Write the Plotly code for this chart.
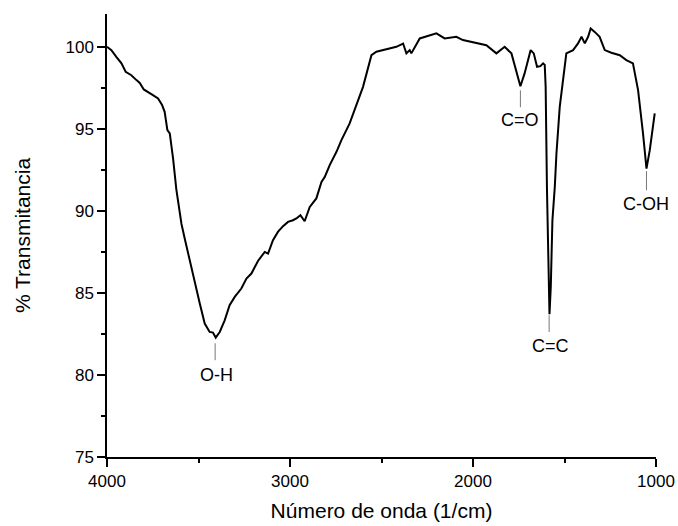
import plotly.graph_objects as go

# FTIR spectrum: wavenumber (1/cm) and % transmittance
wavenumber = [4000, 3976, 3949, 3921, 3898, 3867, 3839, 3821, 3799, 3776, 3749, 3721, 3699, 3685,
              3670, 3657, 3639, 3621, 3593, 3575, 3548, 3521, 3493, 3466, 3439, 3421, 3406, 3384,
              3357, 3330, 3302, 3266, 3238, 3211, 3175, 3138, 3120, 3093, 3066, 3038, 3011, 2984,
              2965, 2943, 2920, 2892, 2856, 2828, 2810, 2783, 2746, 2719, 2674, 2601, 2555, 2528,
              2473, 2419, 2382, 2364, 2346, 2337, 2291, 2237, 2200, 2155, 2091, 2055, 1981, 1927,
              1872, 1827, 1790, 1763, 1741, 1718, 1685, 1668, 1650, 1632, 1617, 1608, 1603, 1596,
              1590, 1582, 1575, 1566, 1553, 1544, 1526, 1508, 1490, 1453, 1426, 1407, 1389, 1371,
              1357, 1335, 1308, 1280, 1244, 1198, 1162, 1126, 1098, 1071, 1052, 1034, 1007]
transmittance = [100.0, 99.8, 99.39, 98.99, 98.48, 98.27, 97.97, 97.8, 97.4, 97.26, 97.05, 96.85, 96.45, 96.04,
                 94.92, 94.72, 93.2, 91.3, 89.2, 88.3, 86.99, 85.57, 84.35, 83.13, 82.62, 82.58, 82.28, 82.62,
                 83.33, 84.25, 84.76, 85.27, 85.88, 86.18, 86.95, 87.5, 87.4, 88.21, 88.72, 89.07, 89.33, 89.43,
                 89.54, 89.74, 89.37, 90.24, 90.76, 91.77, 92.07, 92.79, 93.6, 94.31, 95.33, 97.56, 99.49, 99.7,
                 99.84, 100.0, 100.2, 99.6, 99.8, 99.6, 100.51, 100.71, 100.82, 100.51, 100.61, 100.41, 100.24, 100.1,
                 99.6, 100.0, 99.6, 98.58, 97.6, 98.38, 99.8, 99.6, 98.78, 98.82, 98.99, 98.9, 97.56, 91.46,
                 87.0, 83.7, 85.37, 89.43, 91.46, 93.5, 96.34, 98.17, 99.6, 99.8, 100.21, 100.61, 100.21, 100.61,
                 101.12, 100.91, 100.61, 99.8, 99.64, 99.49, 99.19, 98.99, 97.36, 94.72, 92.58, 93.7, 95.94]

# Band assignments: label text, label position, leader-line position
band_labels = ["O-H", "C=O", "C=C", "C-OH"]
label_x = [3400, 1741, 1579, 1052]
label_y = [79.98, 95.53, 81.75, 90.45]
line_x = [3409, 1741, 1584, 1052]
line_y_top = [81.93, 97.35, 83.64, 92.42]
line_y_bot = [80.9, 96.32, 82.62, 91.26]

FONT = "Liberation Sans, Arial, sans-serif"

fig = go.Figure()
fig.add_trace(go.Scatter(x=wavenumber, y=transmittance, mode="lines",
                         line=dict(color="black", width=2), showlegend=False))

for txt, lx, ly, sx, st, sb in zip(band_labels, label_x, label_y, line_x, line_y_top, line_y_bot):
    fig.add_shape(type="line", x0=sx, x1=sx, y0=st, y1=sb, xref="x", yref="y",
                  line=dict(color="#777777", width=1))
    fig.add_annotation(x=lx, y=ly, text=txt, showarrow=False, xref="x", yref="y",
                       font=dict(family=FONT, size=18, color="black"))

axis_common = dict(showline=True, linecolor="black", linewidth=1.5, mirror=False,
                   showgrid=False, zeroline=False, ticks="outside", ticklen=8,
                   tickwidth=1.5, tickcolor="black", automargin=False,
                   tickfont=dict(family=FONT, size=17, color="black"))

fig.update_xaxes(range=[4000, 1000], tickvals=[4000, 3000, 2000, 1000],
                 minor=dict(ticks="outside", ticklen=4, tickwidth=1.5, tickcolor="black",
                            tickvals=[3500, 2500, 1500], showgrid=False),
                 title=dict(text="Número de onda (1/cm)", standoff=13,
                            font=dict(family=FONT, size=21, color="black")),
                 **axis_common)
fig.update_yaxes(range=[75, 102], tick0=75, dtick=5,
                 minor=dict(ticks="outside", ticklen=4, tickwidth=1.5, tickcolor="black",
                            dtick=2.5, tick0=75, showgrid=False),
                 title=dict(text="% Transmitancia", standoff=29,
                            font=dict(family=FONT, size=21, color="black")),
                 **axis_common)

fig.update_layout(width=678, height=526, margin=dict(l=107, r=22, t=14, b=69),
                  plot_bgcolor="white", paper_bgcolor="white",
                  font=dict(family=FONT, color="black"))

fig.write_html("out.html")
